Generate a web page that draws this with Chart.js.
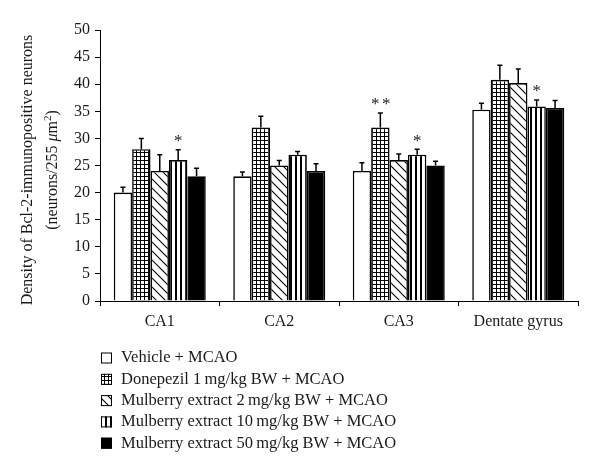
<!DOCTYPE html>
<html>
<head>
<meta charset="utf-8">
<script src="https://cdn.jsdelivr.net/npm/chart.js@4/dist/chart.umd.min.js"></script>
<style>
  html, body { margin: 0; padding: 0; background: #fff; }
  #wrap { width: 600px; height: 473px; }
</style>
</head>
<body>
<div id="wrap"><canvas id="bcl2Chart" width="600" height="473"></canvas></div>
<script>
// === Data ===
const categories = ["CA1", "CA2", "CA3", "Dentate gyrus"];
const yTicks = [0, 5, 10, 15, 20, 25, 30, 35, 40, 45, 50];

const vehicle    = [20, 23, 24, 35.3];
const donepezil  = [28, 32, 32, 40.8];
const mulberry2  = [24, 25, 26, 40.2];
const mulberry10 = [26, 27, 27, 35.9];
const mulberry50 = [23, 24, 25, 35.6];

const vehicleErr    = [1.0, 0.8, 1.5, 1.2];
const donepezilErr  = [2.0, 2.1, 2.7, 2.7];
const mulberry2Err  = [3.0, 0.9, 1.1, 2.6];
const mulberry10Err = [1.9, 0.6, 1.0, 1.2];
const mulberry50Err = [1.5, 1.3, 0.8, 1.4];

const vehicleStars    = ["", "", "", ""];
const donepezilStars  = ["", "", "**", ""];
const mulberry2Stars  = ["", "", "", ""];
const mulberry10Stars = ["*", "", "*", "*"];
const mulberry50Stars = ["", "", "", ""];

const seriesLabels = [
  "Vehicle + MCAO",
  "Donepezil 1\u2009mg/kg BW + MCAO",
  "Mulberry extract 2\u2009mg/kg BW + MCAO",
  "Mulberry extract 10\u2009mg/kg BW + MCAO",
  "Mulberry extract 50\u2009mg/kg BW + MCAO"
];

const FONT = "'Liberation Serif', 'DejaVu Serif', serif";

// === Fill patterns ===
function makePattern(w, h, draw) {
  const c = document.createElement("canvas");
  c.width = w; c.height = h;
  const g = c.getContext("2d");
  g.fillStyle = "#fff";
  g.fillRect(0, 0, w, h);
  g.strokeStyle = "#000";
  g.fillStyle = "#000";
  draw(g);
  return c.getContext("2d").createPattern(c, "repeat");
}

const ctx = document.getElementById("bcl2Chart").getContext("2d");

const gridFill = makePattern(4, 4, g => {
  g.fillRect(0, 0, 4, 1);
  g.fillRect(0, 0, 1, 4);
});
const diagFill = makePattern(9, 9, g => {
  g.lineWidth = 1.1;
  g.beginPath();
  g.moveTo(-1, -1); g.lineTo(10, 10);
  g.moveTo(-1, 8); g.lineTo(1, 10);
  g.moveTo(8, -1); g.lineTo(10, 1);
  g.stroke();
});
const stripeFill = makePattern(5, 5, g => {
  g.fillRect(0, 0, 2, 5);
});

const fills = ["#ffffff", gridFill, diagFill, stripeFill, "#000000"];
const values = [vehicle, donepezil, mulberry2, mulberry10, mulberry50];
const errors = [vehicleErr, donepezilErr, mulberry2Err, mulberry10Err, mulberry50Err];
const stars = [vehicleStars, donepezilStars, mulberry2Stars, mulberry10Stars, mulberry50Stars];

// === Error bars + significance stars ===
const errorBarPlugin = {
  id: "errorBars",
  afterDatasetsDraw(chart) {
    const c = chart.ctx;
    const yScale = chart.scales.y;
    c.save();
    c.strokeStyle = "#000";
    c.fillStyle = "#222";
    c.lineWidth = 1.5;
    chart.data.datasets.forEach((ds, di) => {
      const meta = chart.getDatasetMeta(di);
      meta.data.forEach((bar, i) => {
        const top = yScale.getPixelForValue(ds.data[i] + errors[di][i]);
        c.beginPath();
        c.moveTo(bar.x, bar.y);
        c.lineTo(bar.x, top);
        c.moveTo(bar.x - 2.5, top);
        c.lineTo(bar.x + 2.5, top);
        c.stroke();
        const s = stars[di][i];
        if (s) {
          c.font = "17px " + FONT;
          c.textAlign = "center";
          c.textBaseline = "middle";
          if (s === "**") {
            c.fillText("*", bar.x - 5, top - 8);
            c.fillText("*", bar.x + 6, top - 8);
          } else {
            c.fillText("*", bar.x, top - 8);
          }
        }
      });
    });
    c.restore();
  }
};

// === Y title + legend drawn by hand ===
const annotationPlugin = {
  id: "annotations",
  afterDraw(chart) {
    const c = chart.ctx;
    c.save();
    c.fillStyle = "#1a1a1a";
    c.font = "16px " + FONT;
    c.textBaseline = "middle";

    // y-axis title
    c.save();
    c.translate(28, 170);
    c.rotate(-Math.PI / 2);
    c.textAlign = "center";
    c.fillText("Density of Bcl-2-immunopositive neurons", 0, 0);
    c.restore();

    c.save();
    c.translate(53, 170);
    c.rotate(-Math.PI / 2);
    const p1 = "(neurons/255 ", p2 = "\u03bc", p3 = "m", p4 = "2", p5 = ")";
    c.font = "16px " + FONT;
    const w1 = c.measureText(p1).width;
    c.font = "italic 16px " + FONT;
    const w2 = c.measureText(p2).width;
    c.font = "16px " + FONT;
    const w3 = c.measureText(p3).width;
    c.font = "11px " + FONT;
    const w4 = c.measureText(p4).width;
    c.font = "16px " + FONT;
    const w5 = c.measureText(p5).width;
    let x = -(w1 + w2 + w3 + w4 + w5) / 2;
    c.textAlign = "left";
    c.fillText(p1, x, 0); x += w1;
    c.font = "italic 16px " + FONT;
    c.fillText(p2, x, 0); x += w2;
    c.font = "16px " + FONT;
    c.fillText(p3, x, 0); x += w3;
    c.font = "11px " + FONT;
    c.fillText(p4, x, -5); x += w4;
    c.font = "16px " + FONT;
    c.fillText(p5, x, 0);
    c.restore();

    // legend
    c.textAlign = "left";
    c.lineWidth = 1;
    c.strokeStyle = "#000";
    seriesLabels.forEach((label, i) => {
      const cy = 358 + i * 21.3;
      c.fillStyle = fills[i];
      c.fillRect(101, cy - 5.5, 11, 11);
      c.strokeRect(101.5, cy - 5, 10, 10);
      c.fillStyle = "#1a1a1a";
      c.font = "16.5px " + FONT;
      c.fillText(label, 121, cy);
    });
    c.restore();
  }
};

new Chart(ctx, {
  type: "bar",
  data: {
    labels: categories,
    datasets: values.map((v, i) => ({
      label: seriesLabels[i],
      data: v,
      backgroundColor: fills[i],
      borderColor: "#000",
      borderWidth: 1.6,
      categoryPercentage: 0.77,
      barPercentage: 1
    }))
  },
  options: {
    responsive: false,
    animation: false,
    devicePixelRatio: 1,
    layout: { padding: { left: 0, top: 30, right: 22, bottom: 0 } },
    plugins: {
      legend: { display: false },
      tooltip: { enabled: false }
    },
    scales: {
      x: {
        offset: true,
        grid: { offset: true, drawOnChartArea: false, drawTicks: true, tickLength: 5, color: "#000", lineWidth: 1 },
        border: { color: "#000", width: 1 },
        ticks: { color: "#1a1a1a", font: { family: FONT, size: 16 }, padding: 6 },
        afterFit: s => { s.height = 172; }
      },
      y: {
        min: 0,
        max: 50,
        afterBuildTicks: s => { s.ticks = yTicks.map(v => ({ value: v })); },
        grid: { drawOnChartArea: false, drawTicks: true, tickLength: 5, color: "#000", lineWidth: 1 },
        border: { color: "#000", width: 1 },
        ticks: { color: "#1a1a1a", font: { family: FONT, size: 16 }, padding: 5 },
        afterFit: s => { s.width = 100; }
      }
    }
  },
  plugins: [errorBarPlugin, annotationPlugin]
});
</script>
</body>
</html>
